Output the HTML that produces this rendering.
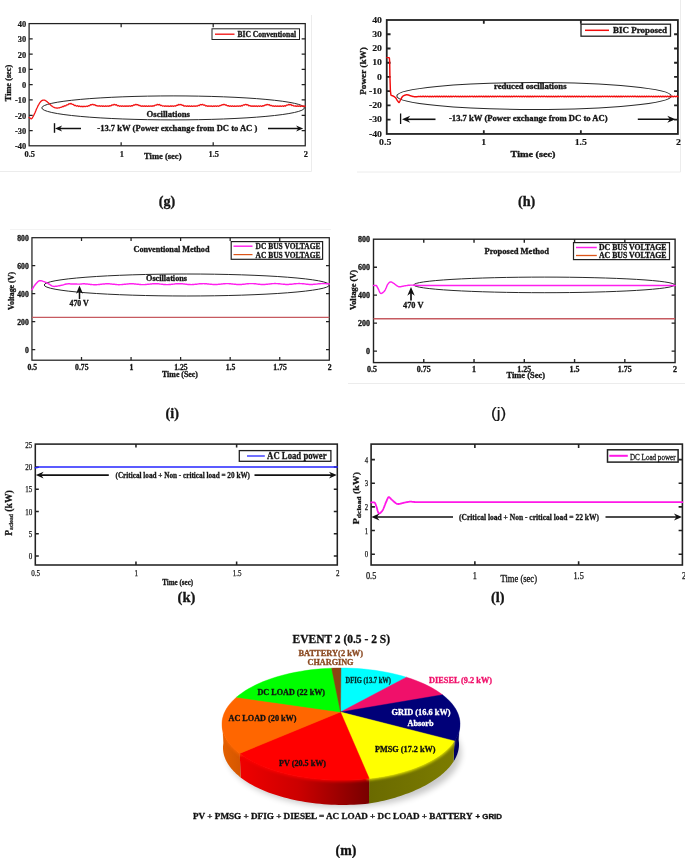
<!DOCTYPE html>
<html lang="en"><head><meta charset="utf-8"><title>Figure</title>
<style>html,body{margin:0;padding:0;background:#fff}svg{display:block}</style></head>
<body>
<svg width="685" height="858" viewBox="0 0 685 858">
<rect width="685" height="858" fill="#fff"/>
<path d="M0 171.5H311.5V15" stroke="#ececec" stroke-width="1" fill="none"/>
<path d="M357 172H680.5V0" stroke="#ececec" stroke-width="1" fill="none"/>
<path d="M10 229.5H331" stroke="#f3f3f3" stroke-width="1" fill="none"/>
<path d="M348 383.5H685" stroke="#ececec" stroke-width="1" fill="none"/>
<g id="fig-g">
<rect x="29.1" y="23.6" width="276.15" height="122.2" fill="#fff" stroke="#222" stroke-width="1.25"/>
<path d="M121.15 145.8v-3.6 M121.15 23.6v3.6 M213.2 145.8v-3.6 M213.2 23.6v3.6 M29.1 130.53h3.6 M305.25 130.53h-3.6 M29.1 115.25h3.6 M305.25 115.25h-3.6 M29.1 99.98h3.6 M305.25 99.98h-3.6 M29.1 84.7h3.6 M305.25 84.7h-3.6 M29.1 69.43h3.6 M305.25 69.43h-3.6 M29.1 54.15h3.6 M305.25 54.15h-3.6 M29.1 38.88h3.6 M305.25 38.88h-3.6" stroke="#222" stroke-width="1.25" fill="none"/>
<text x="15" y="149.17" font-family="Liberation Serif,serif" font-size="8.4" font-weight="bold" text-anchor="start" fill="#151515" textLength="11.2" lengthAdjust="spacingAndGlyphs" stroke="#151515" stroke-width="0.2">-40</text>
<text x="15" y="133.9" font-family="Liberation Serif,serif" font-size="8.4" font-weight="bold" text-anchor="start" fill="#151515" textLength="11.2" lengthAdjust="spacingAndGlyphs" stroke="#151515" stroke-width="0.2">-30</text>
<text x="15" y="118.62" font-family="Liberation Serif,serif" font-size="8.4" font-weight="bold" text-anchor="start" fill="#151515" textLength="11.2" lengthAdjust="spacingAndGlyphs" stroke="#151515" stroke-width="0.2">-20</text>
<text x="15" y="103.35" font-family="Liberation Serif,serif" font-size="8.4" font-weight="bold" text-anchor="start" fill="#151515" textLength="11.2" lengthAdjust="spacingAndGlyphs" stroke="#151515" stroke-width="0.2">-10</text>
<text x="22" y="88.07" font-family="Liberation Serif,serif" font-size="8.4" font-weight="bold" text-anchor="start" fill="#151515" textLength="4.2" lengthAdjust="spacingAndGlyphs" stroke="#151515" stroke-width="0.2">0</text>
<text x="17.8" y="72.8" font-family="Liberation Serif,serif" font-size="8.4" font-weight="bold" text-anchor="start" fill="#151515" textLength="8.4" lengthAdjust="spacingAndGlyphs" stroke="#151515" stroke-width="0.2">10</text>
<text x="17.8" y="57.52" font-family="Liberation Serif,serif" font-size="8.4" font-weight="bold" text-anchor="start" fill="#151515" textLength="8.4" lengthAdjust="spacingAndGlyphs" stroke="#151515" stroke-width="0.2">20</text>
<text x="17.8" y="42.25" font-family="Liberation Serif,serif" font-size="8.4" font-weight="bold" text-anchor="start" fill="#151515" textLength="8.4" lengthAdjust="spacingAndGlyphs" stroke="#151515" stroke-width="0.2">30</text>
<text x="17.8" y="26.97" font-family="Liberation Serif,serif" font-size="8.4" font-weight="bold" text-anchor="start" fill="#151515" textLength="8.4" lengthAdjust="spacingAndGlyphs" stroke="#151515" stroke-width="0.2">40</text>
<text x="24.45" y="157.17" font-family="Liberation Serif,serif" font-size="8.4" font-weight="bold" text-anchor="start" fill="#151515" textLength="10.5" lengthAdjust="spacingAndGlyphs" stroke="#151515" stroke-width="0.2">0.5</text>
<text x="119.65" y="157.17" font-family="Liberation Serif,serif" font-size="8.4" font-weight="bold" text-anchor="start" fill="#151515" textLength="4.2" lengthAdjust="spacingAndGlyphs" stroke="#151515" stroke-width="0.2">1</text>
<text x="208.55" y="157.17" font-family="Liberation Serif,serif" font-size="8.4" font-weight="bold" text-anchor="start" fill="#151515" textLength="10.5" lengthAdjust="spacingAndGlyphs" stroke="#151515" stroke-width="0.2">1.5</text>
<text x="303.75" y="157.17" font-family="Liberation Serif,serif" font-size="8.4" font-weight="bold" text-anchor="start" fill="#151515" textLength="4.2" lengthAdjust="spacingAndGlyphs" stroke="#151515" stroke-width="0.2">2</text>
<text x="144" y="159.31" font-family="Liberation Serif,serif" font-size="8.53" font-weight="bold" text-anchor="start" fill="#151515" textLength="37.5" lengthAdjust="spacingAndGlyphs" stroke="#151515" stroke-width="0.3">Time (sec)</text>
<g transform="rotate(-90 10.74 83)">
<text x="-7.51" y="83" font-family="Liberation Serif,serif" font-size="8.3" font-weight="bold" text-anchor="start" fill="#151515" textLength="36.5" lengthAdjust="spacingAndGlyphs" stroke="#151515" stroke-width="0.3">Time (sec)</text>
</g>
<ellipse cx="173.1" cy="107.9" rx="131.3" ry="12" fill="none" stroke="#2a2a2a" stroke-width="1"/>
<polyline points="29.1,117.4 29.6,117.8 30.2,118.1 30.7,118.5 31.2,118.9 31.8,118.5 32.3,117.8 32.8,117.0 33.4,116.1 33.9,115.0 34.4,113.9 35.0,112.7 35.5,111.5 36.0,110.3 36.5,109.0 37.1,107.8 37.6,106.7 38.1,105.6 38.7,104.6 39.2,103.7 39.7,102.8 40.3,102.1 40.8,101.5 41.3,101.0 41.9,100.6 42.4,100.3 42.9,100.1 43.5,100.1 44.0,100.1 44.5,100.2 45.1,100.4 45.6,100.7 46.1,101.0 46.7,101.4 47.2,101.8 47.7,102.3 48.3,102.8 48.8,103.3 49.3,103.8 49.9,104.3 50.4,104.8 50.9,105.2 51.4,105.7 52.0,106.1 52.5,106.5 53.0,106.8 53.6,107.1 54.1,107.3 54.6,107.6 55.2,107.8 55.7,107.9 56.2,107.9 56.8,108.1 57.3,108.1 57.8,108.0 58.4,107.8 58.9,107.9 59.4,107.9 60.0,107.5 60.5,107.3 61.0,107.3 61.6,107.2 62.1,106.8 62.6,106.5 63.2,106.5 63.7,106.5 64.2,106.0 64.7,105.7 65.3,105.8 65.8,105.8 66.3,105.2 66.9,104.8 67.4,104.8 67.9,104.8 68.5,104.2 69.0,103.7 69.5,103.8 70.1,104.0 70.6,103.6 71.1,103.4 71.7,103.9 72.2,104.4 72.7,104.4 73.3,104.3 73.8,104.9 74.3,105.5 74.9,105.4 75.4,105.3 75.9,105.7 76.5,106.2 77.0,106.0 77.5,105.7 78.1,106.0 78.6,106.5 79.1,106.3 79.6,106.0 80.2,106.3 80.7,106.7 81.2,106.6 81.8,106.2 82.3,106.4 82.8,106.8 83.4,106.6 83.9,106.2 84.4,106.3 85.0,106.7 85.5,106.6 86.0,106.1 86.6,106.2 87.1,106.5 87.6,106.3 88.2,105.8 88.7,105.6 89.2,105.8 89.8,105.5 90.3,104.9 90.8,104.7 91.4,104.9 91.9,104.8 92.4,104.3 92.9,104.3 93.5,104.8 94.0,105.0 94.5,104.7 95.1,104.9 95.6,105.5 96.1,105.8 96.7,105.5 97.2,105.6 97.7,106.1 98.3,106.2 98.8,105.8 99.3,105.7 99.9,106.1 100.4,106.3 100.9,105.9 101.5,105.8 102.0,106.2 102.5,106.4 103.1,106.0 103.6,105.9 104.1,106.3 104.7,106.4 105.2,106.0 105.7,105.9 106.3,106.2 106.8,106.4 107.3,106.0 107.8,105.8 108.4,106.2 108.9,106.4 109.4,105.9 110.0,105.6 110.5,105.8 111.0,105.9 111.6,105.3 112.1,104.8 112.6,105.0 113.2,105.1 113.7,104.6 114.2,104.3 114.8,104.6 115.3,105.0 115.8,104.9 116.4,104.7 116.9,105.2 117.4,105.8 118.0,105.7 118.5,105.5 119.0,105.9 119.6,106.3 120.1,106.1 120.6,105.8 121.1,106.0 121.7,106.4 122.2,106.1 122.7,105.8 123.3,106.0 123.8,106.4 124.3,106.2 124.9,105.9 125.4,106.1 125.9,106.4 126.5,106.2 127.0,105.8 127.5,106.0 128.1,106.4 128.6,106.2 129.1,105.8 129.7,105.9 130.2,106.3 130.7,106.2 131.3,105.7 131.8,105.7 132.3,106.0 132.9,105.7 133.4,105.1 133.9,104.9 134.5,105.2 135.0,104.9 135.5,104.4 136.0,104.4 136.6,104.8 137.1,104.9 137.6,104.6 138.2,104.8 138.7,105.4 139.2,105.7 139.8,105.4 140.3,105.6 140.8,106.1 141.4,106.3 141.9,105.9 142.4,105.8 143.0,106.3 143.5,106.3 144.0,105.9 144.6,105.8 145.1,106.3 145.6,106.4 146.2,106.0 146.7,105.9 147.2,106.3 147.8,106.4 148.3,106.0 148.8,105.9 149.4,106.2 149.9,106.4 150.4,106.0 150.9,105.8 151.5,106.2 152.0,106.4 152.5,106.0 153.1,105.7 153.6,106.0 154.1,106.0 154.7,105.5 155.2,105.1 155.7,105.2 156.3,105.2 156.8,104.7 157.3,104.3 157.9,104.6 158.4,104.9 158.9,104.6 159.5,104.5 160.0,105.0 160.5,105.5 161.1,105.4 161.6,105.3 162.1,105.8 162.7,106.2 163.2,106.0 163.7,105.8 164.2,106.0 164.8,106.4 165.3,106.1 165.8,105.8 166.4,106.0 166.9,106.4 167.4,106.2 168.0,105.9 168.5,106.1 169.0,106.5 169.6,106.3 170.1,105.9 170.6,106.0 171.2,106.4 171.7,106.2 172.2,105.8 172.8,106.0 173.3,106.4 173.8,106.2 174.4,105.8 174.9,105.8 175.4,106.2 176.0,105.9 176.5,105.3 177.0,105.2 177.6,105.4 178.1,105.1 178.6,104.5 179.1,104.5 179.7,104.8 180.2,104.8 180.7,104.4 181.3,104.6 181.8,105.2 182.3,105.4 182.9,105.1 183.4,105.3 183.9,106.0 184.5,106.1 185.0,105.8 185.5,105.8 186.1,106.3 186.6,106.3 187.1,105.9 187.7,105.8 188.2,106.3 188.7,106.4 189.3,106.0 189.8,105.9 190.3,106.3 190.9,106.4 191.4,106.0 191.9,105.9 192.4,106.3 193.0,106.4 193.5,106.0 194.0,105.8 194.6,106.2 195.1,106.4 195.6,106.0 196.2,105.8 196.7,106.1 197.2,106.2 197.8,105.7 198.3,105.3 198.8,105.5 199.4,105.5 199.9,104.9 200.4,104.5 201.0,104.7 201.5,104.9 202.0,104.5 202.6,104.3 203.1,104.8 203.6,105.2 204.2,105.1 204.7,105.0 205.2,105.5 205.8,106.0 206.3,105.9 206.8,105.7 207.3,106.0 207.9,106.4 208.4,106.1 208.9,105.8 209.5,106.0 210.0,106.4 210.5,106.2 211.1,105.8 211.6,106.1 212.1,106.5 212.7,106.3 213.2,105.9 213.7,106.1 214.3,106.4 214.8,106.2 215.3,105.8 215.9,106.0 216.4,106.4 216.9,106.2 217.5,105.8 218.0,105.9 218.5,106.3 219.1,106.1 219.6,105.6 220.1,105.5 220.6,105.7 221.2,105.4 221.7,104.8 222.2,104.7 222.8,104.9 223.3,104.8 223.8,104.3 224.4,104.4 224.9,104.9 225.4,105.1 226.0,104.8 226.5,105.1 227.0,105.7 227.6,105.9 228.1,105.6 228.6,105.7 229.2,106.2 229.7,106.3 230.2,105.9 230.8,105.9 231.3,106.3 231.8,106.3 232.4,105.9 232.9,105.9 233.4,106.3 234.0,106.4 234.5,106.0 235.0,105.9 235.5,106.3 236.1,106.4 236.6,106.0 237.1,105.8 237.7,106.2 238.2,106.4 238.7,106.0 239.3,105.8 239.8,106.2 240.3,106.3 240.9,105.9 241.4,105.5 241.9,105.8 242.5,105.8 243.0,105.2 243.5,104.8 244.1,104.9 244.6,105.0 245.1,104.5 245.7,104.3 246.2,104.6 246.7,105.0 247.3,104.8 247.8,104.7 248.3,105.3 248.8,105.8 249.4,105.7 249.9,105.5 250.4,105.9 251.0,106.3 251.5,106.1 252.0,105.8 252.6,106.1 253.1,106.4 253.6,106.1 254.2,105.8 254.7,106.1 255.2,106.4 255.8,106.2 256.3,105.9 256.8,106.1 257.4,106.5 257.9,106.2 258.4,105.8 259.0,106.0 259.5,106.4 260.0,106.2 260.6,105.8 261.1,106.0 261.6,106.4 262.2,106.2 262.7,105.7 263.2,105.7 263.7,106.0 264.3,105.7 264.8,105.1 265.3,104.9 265.9,105.2 266.4,104.9 266.9,104.4 267.5,104.4 268.0,104.8 268.5,104.9 269.1,104.6 269.6,104.8 270.1,105.5 270.7,105.6 271.2,105.4 271.7,105.6 272.3,106.1 272.8,106.2 273.3,105.9 273.9,105.9 274.4,106.3 274.9,106.3 275.5,105.9 276.0,105.9 276.5,106.3 277.0,106.4 277.6,106.0 278.1,105.9 278.6,106.3 279.2,106.4 279.7,106.0 280.2,105.9 280.8,106.3 281.3,106.4 281.8,106.0 282.4,105.8 282.9,106.2 283.4,106.4 284.0,105.9 284.5,105.7 285.0,106.0 285.6,106.0 286.1,105.5 286.6,105.1 287.2,105.2 287.7,105.2 288.2,104.7 288.8,104.3 289.3,104.6 289.8,104.9 290.4,104.6 290.9,104.5 291.4,105.0 291.9,105.5 292.5,105.4 293.0,105.3 293.5,105.8 294.1,106.2 294.6,106.0 295.1,105.7 295.7,106.1 296.2,106.4 296.7,106.1 297.3,105.8 297.8,106.1 298.3,106.4 298.9,106.2 299.4,105.9 299.9,106.1 300.5,106.5 301.0,106.2 301.5,105.9 302.1,106.1 302.6,106.4 303.1,106.2 303.7,105.8 304.2,106.0 304.7,106.4 305.2,106.2" fill="none" stroke="#f21414" stroke-width="1.3" stroke-linejoin="round" stroke-linecap="round"/>
<rect x="212" y="28.8" width="87.5" height="10.7" fill="#fff" stroke="#222" stroke-width="1"/>
<path d="M215 34.2H234.5" stroke="#f21414" stroke-width="1.35" fill="none"/>
<text x="237.5" y="36.69" font-family="Liberation Serif,serif" font-size="7.55" font-weight="bold" text-anchor="start" fill="#151515" textLength="58.5" lengthAdjust="spacingAndGlyphs" stroke="#151515" stroke-width="0.3">BIC Conventional</text>
<text x="146.5" y="117.07" font-family="Liberation Serif,serif" font-size="8.7" font-weight="bold" text-anchor="start" fill="#151515" textLength="43.5" lengthAdjust="spacingAndGlyphs" stroke="#151515" stroke-width="0.3">Oscillations</text>
<path d="M54.5 123.2V132.8" stroke="#111" stroke-width="1.4" fill="none"/>
<path d="M81 128.5H58.3" stroke="#111" stroke-width="1.5" fill="none"/>
<path d="M55 128.5L62.15 125.47L59.95 128.5L62.15 131.53Z" fill="#111"/>
<text x="97.3" y="131.22" font-family="Liberation Serif,serif" font-size="8.56" font-weight="bold" text-anchor="start" fill="#151515" textLength="160" lengthAdjust="spacingAndGlyphs" stroke="#151515" stroke-width="0.3">-13.7 kW (Power exchange from DC to AC )</text>
<path d="M268 128.5H299.9" stroke="#111" stroke-width="1.5" fill="none"/>
<path d="M303.2 128.5L296.05 125.47L298.25 128.5L296.05 131.53Z" fill="#111"/>
<text x="158.72" y="205.89" font-family="Liberation Serif,serif" font-size="14.2" font-weight="bold" text-anchor="start" fill="#151515" textLength="16.56" lengthAdjust="spacingAndGlyphs" stroke="#151515" stroke-width="0.3">(g)</text>
</g>
<g id="fig-h">
<rect x="386.75" y="20" width="291.15" height="113.95" fill="#fff" stroke="#222" stroke-width="1.8"/>
<path d="M483.8 133.95v-3.8 M483.8 20v3.8 M580.85 133.95v-3.8 M580.85 20v3.8 M386.75 119.71h3.8 M677.9 119.71h-3.8 M386.75 105.46h3.8 M677.9 105.46h-3.8 M386.75 91.22h3.8 M677.9 91.22h-3.8 M386.75 76.97h3.8 M677.9 76.97h-3.8 M386.75 62.73h3.8 M677.9 62.73h-3.8 M386.75 48.49h3.8 M677.9 48.49h-3.8 M386.75 34.24h3.8 M677.9 34.24h-3.8" stroke="#222" stroke-width="1.8" fill="none"/>
<text x="368.9" y="136.62" font-family="Liberation Serif,serif" font-size="7.8" font-weight="bold" text-anchor="start" fill="#151515" textLength="13.1" lengthAdjust="spacingAndGlyphs" stroke="#151515" stroke-width="0.12">-40</text>
<text x="368.9" y="122.38" font-family="Liberation Serif,serif" font-size="7.8" font-weight="bold" text-anchor="start" fill="#151515" textLength="13.1" lengthAdjust="spacingAndGlyphs" stroke="#151515" stroke-width="0.12">-30</text>
<text x="368.9" y="108.14" font-family="Liberation Serif,serif" font-size="7.8" font-weight="bold" text-anchor="start" fill="#151515" textLength="13.1" lengthAdjust="spacingAndGlyphs" stroke="#151515" stroke-width="0.12">-20</text>
<text x="368.9" y="93.89" font-family="Liberation Serif,serif" font-size="7.8" font-weight="bold" text-anchor="start" fill="#151515" textLength="13.1" lengthAdjust="spacingAndGlyphs" stroke="#151515" stroke-width="0.12">-10</text>
<text x="377.09" y="79.65" font-family="Liberation Serif,serif" font-size="7.8" font-weight="bold" text-anchor="start" fill="#151515" textLength="4.91" lengthAdjust="spacingAndGlyphs" stroke="#151515" stroke-width="0.12">0</text>
<text x="372.17" y="65.41" font-family="Liberation Serif,serif" font-size="7.8" font-weight="bold" text-anchor="start" fill="#151515" textLength="9.83" lengthAdjust="spacingAndGlyphs" stroke="#151515" stroke-width="0.12">10</text>
<text x="372.17" y="51.16" font-family="Liberation Serif,serif" font-size="7.8" font-weight="bold" text-anchor="start" fill="#151515" textLength="9.83" lengthAdjust="spacingAndGlyphs" stroke="#151515" stroke-width="0.12">20</text>
<text x="372.17" y="36.92" font-family="Liberation Serif,serif" font-size="7.8" font-weight="bold" text-anchor="start" fill="#151515" textLength="9.83" lengthAdjust="spacingAndGlyphs" stroke="#151515" stroke-width="0.12">30</text>
<text x="372.17" y="22.67" font-family="Liberation Serif,serif" font-size="7.8" font-weight="bold" text-anchor="start" fill="#151515" textLength="9.83" lengthAdjust="spacingAndGlyphs" stroke="#151515" stroke-width="0.12">40</text>
<text x="379.11" y="145.17" font-family="Liberation Serif,serif" font-size="7.8" font-weight="bold" text-anchor="start" fill="#151515" textLength="12.29" lengthAdjust="spacingAndGlyphs" stroke="#151515" stroke-width="0.12">0.5</text>
<text x="481.34" y="145.17" font-family="Liberation Serif,serif" font-size="7.8" font-weight="bold" text-anchor="start" fill="#151515" textLength="4.91" lengthAdjust="spacingAndGlyphs" stroke="#151515" stroke-width="0.12">1</text>
<text x="574.71" y="145.17" font-family="Liberation Serif,serif" font-size="7.8" font-weight="bold" text-anchor="start" fill="#151515" textLength="12.29" lengthAdjust="spacingAndGlyphs" stroke="#151515" stroke-width="0.12">1.5</text>
<text x="676.04" y="145.17" font-family="Liberation Serif,serif" font-size="7.8" font-weight="bold" text-anchor="start" fill="#151515" textLength="4.91" lengthAdjust="spacingAndGlyphs" stroke="#151515" stroke-width="0.12">2</text>
<text x="510.5" y="157.33" font-family="Liberation Serif,serif" font-size="8.28" font-weight="bold" text-anchor="start" fill="#151515" textLength="45" lengthAdjust="spacingAndGlyphs" stroke="#151515" stroke-width="0.3">Time (sec)</text>
<g transform="rotate(-90 365.94 71)">
<text x="342.19" y="71" font-family="Liberation Serif,serif" font-size="8" font-weight="bold" text-anchor="start" fill="#151515" textLength="47.5" lengthAdjust="spacingAndGlyphs" stroke="#151515" stroke-width="0.3">Power (kW)</text>
</g>
<ellipse cx="534" cy="96" rx="137.2" ry="13.5" fill="none" stroke="#2a2a2a" stroke-width="1.05"/>
<polyline points="386.8,57.6 387.0,57.6 387.2,57.6 387.5,57.6 387.7,57.6 388.0,57.6 388.2,57.6 388.5,57.6 388.7,57.6 388.9,57.6 389.2,57.6 389.4,58.3 389.7,62.5 389.9,75.8 390.2,84.7 390.4,90.9 390.7,93.4 390.9,94.9 391.1,95.3 391.4,95.4 391.6,95.5 391.9,95.6 392.1,95.6 392.4,95.7 392.6,95.8 392.9,95.9 393.1,96.0 393.3,96.1 393.6,96.3 393.8,96.4 394.1,96.6 394.3,96.7 394.6,96.9 394.8,97.1 395.1,97.3 395.3,97.5 395.5,97.7 395.8,98.0 396.0,98.3 396.3,98.7 396.5,99.1 396.8,99.5 397.0,100.0 397.2,100.4 397.5,100.7 397.7,101.1 398.0,101.4 398.2,101.8 398.5,102.1 398.7,102.4 399.0,102.5 399.2,102.4 399.4,102.0 399.7,101.6 399.9,101.0 400.2,100.5 400.4,100.0 400.7,99.5 400.9,99.1 401.2,98.7 401.4,98.3 401.6,97.9 401.9,97.5 402.1,97.1 402.4,96.8 402.6,96.5 402.9,96.2 403.1,96.0 403.4,95.9 403.6,95.7 403.8,95.6 404.1,95.5 404.3,95.4 404.6,95.3 404.8,95.2 405.1,95.1 405.3,95.1 405.5,95.0 405.8,94.9 406.0,94.9 406.3,94.8 406.5,94.8 406.8,94.8 407.0,94.8 407.3,94.8 407.5,94.8 407.7,94.9 408.0,94.9 408.2,95.0 408.5,95.0 408.7,95.1 409.0,95.2 409.2,95.3 409.5,95.4 409.7,95.5 409.9,95.6 410.2,95.7 410.4,95.8 410.7,95.8 410.9,95.9 411.2,96.0 411.4,96.0 411.7,96.1 411.9,96.2 412.1,96.2 412.4,96.3 412.6,96.4 412.9,96.4 413.1,96.5 413.4,96.5 413.6,96.6 413.9,96.6 414.1,96.7 414.3,96.7 414.6,96.8 414.8,96.8 415.1,96.8 415.3,96.8 415.6,96.8 415.8,96.8 416.0,96.7 416.3,96.7 416.5,96.7 416.8,96.7 417.0,96.7 417.3,96.7 417.5,96.6 417.8,96.6 418.0,96.5 418.2,96.5 418.5,96.4 418.7,96.5 419.0,96.5 419.2,96.6 419.5,96.6 419.7,96.6 420.0,96.5 420.2,96.5 420.4,96.4 420.7,96.3 420.9,96.4 421.2,96.4 421.4,96.5 421.7,96.6 421.9,96.7 422.2,96.6 422.4,96.5 422.6,96.4 422.9,96.3 423.1,96.3 423.4,96.3 423.6,96.5 423.9,96.6 424.1,96.7 424.3,96.7 424.6,96.6 424.8,96.5 425.1,96.3 425.3,96.2 425.6,96.2 426.1,96.6 426.7,96.7 427.3,96.4 427.9,96.2 428.4,96.6 429.0,96.8 429.6,96.4 430.2,96.2 430.7,96.6 431.3,96.8 431.9,96.4 432.5,96.2 433.0,96.6 433.6,96.8 434.2,96.4 434.8,96.2 435.3,96.5 435.9,96.8 436.5,96.4 437.1,96.2 437.6,96.5 438.2,96.8 438.8,96.5 439.4,96.2 439.9,96.5 440.5,96.8 441.1,96.5 441.7,96.2 442.2,96.5 442.8,96.8 443.4,96.5 444.0,96.2 444.5,96.4 445.1,96.8 445.7,96.5 446.3,96.2 446.8,96.4 447.4,96.8 448.0,96.6 448.6,96.2 449.1,96.4 449.7,96.8 450.3,96.6 450.9,96.2 451.4,96.4 452.0,96.8 452.6,96.6 453.2,96.2 453.7,96.4 454.3,96.7 454.9,96.6 455.5,96.2 456.0,96.3 456.6,96.7 457.2,96.6 457.8,96.3 458.3,96.3 458.9,96.7 459.5,96.7 460.1,96.3 460.6,96.3 461.2,96.7 461.8,96.7 462.4,96.3 462.9,96.3 463.5,96.7 464.1,96.7 464.7,96.3 465.2,96.3 465.8,96.7 466.4,96.7 467.0,96.3 467.5,96.3 468.1,96.6 468.7,96.7 469.3,96.3 469.8,96.2 470.4,96.6 471.0,96.7 471.6,96.4 472.1,96.2 472.7,96.6 473.3,96.8 473.9,96.4 474.4,96.2 475.0,96.6 475.6,96.8 476.2,96.4 476.7,96.2 477.3,96.6 477.9,96.8 478.5,96.4 479.0,96.2 479.6,96.5 480.2,96.8 480.7,96.4 481.3,96.2 481.9,96.5 482.5,96.8 483.0,96.5 483.6,96.2 484.2,96.5 484.8,96.8 485.3,96.5 485.9,96.2 486.5,96.5 487.1,96.8 487.6,96.5 488.2,96.2 488.8,96.5 489.4,96.8 489.9,96.5 490.5,96.2 491.1,96.4 491.7,96.8 492.2,96.6 492.8,96.2 493.4,96.4 494.0,96.8 494.5,96.6 495.1,96.2 495.7,96.4 496.3,96.8 496.8,96.6 497.4,96.2 498.0,96.4 498.6,96.7 499.1,96.6 499.7,96.2 500.3,96.3 500.9,96.7 501.4,96.6 502.0,96.3 502.6,96.3 503.2,96.7 503.7,96.7 504.3,96.3 504.9,96.3 505.5,96.7 506.0,96.7 506.6,96.3 507.2,96.3 507.8,96.7 508.3,96.7 508.9,96.3 509.5,96.3 510.1,96.7 510.6,96.7 511.2,96.3 511.8,96.3 512.4,96.7 512.9,96.7 513.5,96.3 514.1,96.2 514.7,96.6 515.2,96.7 515.8,96.4 516.4,96.2 517.0,96.6 517.5,96.7 518.1,96.4 518.7,96.2 519.3,96.6 519.8,96.8 520.4,96.4 521.0,96.2 521.6,96.6 522.1,96.8 522.7,96.4 523.3,96.2 523.9,96.5 524.4,96.8 525.0,96.4 525.6,96.2 526.2,96.5 526.7,96.8 527.3,96.5 527.9,96.2 528.5,96.5 529.0,96.8 529.6,96.5 530.2,96.2 530.8,96.5 531.3,96.8 531.9,96.5 532.5,96.2 533.1,96.5 533.6,96.8 534.2,96.5 534.8,96.2 535.4,96.4 535.9,96.8 536.5,96.6 537.1,96.2 537.7,96.4 538.2,96.8 538.8,96.6 539.4,96.2 540.0,96.4 540.5,96.8 541.1,96.6 541.7,96.2 542.3,96.4 542.8,96.7 543.4,96.6 544.0,96.2 544.6,96.3 545.1,96.7 545.7,96.6 546.3,96.3 546.8,96.3 547.4,96.7 548.0,96.7 548.6,96.3 549.1,96.3 549.7,96.7 550.3,96.7 550.9,96.3 551.4,96.3 552.0,96.7 552.6,96.7 553.2,96.3 553.7,96.3 554.3,96.7 554.9,96.7 555.5,96.3 556.0,96.3 556.6,96.7 557.2,96.7 557.8,96.3 558.3,96.2 558.9,96.6 559.5,96.7 560.1,96.4 560.6,96.2 561.2,96.6 561.8,96.7 562.4,96.4 562.9,96.2 563.5,96.6 564.1,96.8 564.7,96.4 565.2,96.2 565.8,96.6 566.4,96.8 567.0,96.4 567.5,96.2 568.1,96.5 568.7,96.8 569.3,96.4 569.8,96.2 570.4,96.5 571.0,96.8 571.6,96.5 572.1,96.2 572.7,96.5 573.3,96.8 573.9,96.5 574.4,96.2 575.0,96.5 575.6,96.8 576.2,96.5 576.7,96.2 577.3,96.5 577.9,96.8 578.5,96.5 579.0,96.2 579.6,96.4 580.2,96.8 580.8,96.6 581.3,96.2 581.9,96.4 582.5,96.8 583.1,96.6 583.6,96.2 584.2,96.4 584.8,96.8 585.4,96.6 585.9,96.2 586.5,96.4 587.1,96.7 587.7,96.6 588.2,96.2 588.8,96.3 589.4,96.7 590.0,96.6 590.5,96.3 591.1,96.3 591.7,96.7 592.3,96.7 592.8,96.3 593.4,96.3 594.0,96.7 594.6,96.7 595.1,96.3 595.7,96.3 596.3,96.7 596.9,96.7 597.4,96.3 598.0,96.3 598.6,96.7 599.2,96.7 599.7,96.3 600.3,96.3 600.9,96.7 601.5,96.7 602.0,96.3 602.6,96.2 603.2,96.6 603.8,96.7 604.3,96.4 604.9,96.2 605.5,96.6 606.1,96.7 606.6,96.4 607.2,96.2 607.8,96.6 608.4,96.8 608.9,96.4 609.5,96.2 610.1,96.6 610.7,96.8 611.2,96.4 611.8,96.2 612.4,96.6 612.9,96.8 613.5,96.4 614.1,96.2 614.7,96.5 615.2,96.8 615.8,96.5 616.4,96.2 617.0,96.5 617.5,96.8 618.1,96.5 618.7,96.2 619.3,96.5 619.8,96.8 620.4,96.5 621.0,96.2 621.6,96.5 622.1,96.8 622.7,96.5 623.3,96.2 623.9,96.4 624.4,96.8 625.0,96.6 625.6,96.2 626.2,96.4 626.7,96.8 627.3,96.6 627.9,96.2 628.5,96.4 629.0,96.8 629.6,96.6 630.2,96.2 630.8,96.4 631.3,96.7 631.9,96.6 632.5,96.2 633.1,96.3 633.6,96.7 634.2,96.6 634.8,96.2 635.4,96.3 635.9,96.7 636.5,96.7 637.1,96.3 637.7,96.3 638.2,96.7 638.8,96.7 639.4,96.3 640.0,96.3 640.5,96.7 641.1,96.7 641.7,96.3 642.3,96.3 642.8,96.7 643.4,96.7 644.0,96.3 644.6,96.3 645.1,96.7 645.7,96.7 646.3,96.3 646.9,96.2 647.4,96.6 648.0,96.7 648.6,96.3 649.2,96.2 649.7,96.6 650.3,96.7 650.9,96.4 651.5,96.2 652.0,96.6 652.6,96.8 653.2,96.4 653.8,96.2 654.3,96.6 654.9,96.8 655.5,96.4 656.1,96.2 656.6,96.6 657.2,96.8 657.8,96.4 658.4,96.2 658.9,96.5 659.5,96.8 660.1,96.5 660.7,96.2 661.2,96.5 661.8,96.8 662.4,96.5 663.0,96.2 663.5,96.5 664.1,96.8 664.7,96.5 665.3,96.2 665.8,96.5 666.4,96.8 667.0,96.5 667.6,96.2 668.1,96.4 668.7,96.8 669.3,96.6 669.9,96.2 670.4,96.4 671.0,96.8 671.6,96.6 672.2,96.2 672.7,96.4 673.3,96.8 673.9,96.6 674.5,96.2 675.0,96.4 675.6,96.7 676.2,96.6 676.8,96.2 677.3,96.4 677.9,96.7" fill="none" stroke="#f20c0c" stroke-width="1.45" stroke-linejoin="round" stroke-linecap="round"/>
<rect x="581" y="24.2" width="89.5" height="12" fill="#fff" stroke="#222" stroke-width="1.3"/>
<path d="M585 30.3H609" stroke="#f20c0c" stroke-width="1.5" fill="none"/>
<text x="613" y="32.87" font-family="Liberation Serif,serif" font-size="7.49" font-weight="bold" text-anchor="start" fill="#151515" textLength="54" lengthAdjust="spacingAndGlyphs" stroke="#151515" stroke-width="0.3">BIC Proposed</text>
<text x="494" y="89.17" font-family="Liberation Serif,serif" font-size="7.19" font-weight="bold" text-anchor="start" fill="#151515" textLength="72.5" lengthAdjust="spacingAndGlyphs" stroke="#151515" stroke-width="0.3">reduced oscillations</text>
<path d="M400.6 113.5V124" stroke="#111" stroke-width="1.3" fill="none"/>
<path d="M435.5 119.3H405.78" stroke="#111" stroke-width="1.6" fill="none"/>
<path d="M402 119.3L410.19 115.83L407.67 119.3L410.19 122.77Z" fill="#111"/>
<text x="449" y="121.26" font-family="Liberation Serif,serif" font-size="7.16" font-weight="bold" text-anchor="start" fill="#151515" textLength="158.5" lengthAdjust="spacingAndGlyphs" stroke="#151515" stroke-width="0.3">-13.7 kW (Power exchange from DC to AC)</text>
<path d="M637.8 119.3H671.72" stroke="#111" stroke-width="1.6" fill="none"/>
<path d="M675.5 119.3L667.31 115.83L669.83 119.3L667.31 122.77Z" fill="#111"/>
<text x="517.92" y="205.89" font-family="Liberation Serif,serif" font-size="14.2" font-weight="bold" text-anchor="start" fill="#151515" textLength="17.36" lengthAdjust="spacingAndGlyphs" stroke="#151515" stroke-width="0.3">(h)</text>
</g>
<g id="fig-i">
<rect x="31.95" y="237.7" width="297.35" height="122.5" fill="#fff" stroke="#222" stroke-width="1.25"/>
<path d="M81.51 360.2v-3.3 M81.51 237.7v3.3 M131.07 360.2v-3.3 M131.07 237.7v3.3 M180.62 360.2v-3.3 M180.62 237.7v3.3 M230.18 360.2v-3.3 M230.18 237.7v3.3 M279.74 360.2v-3.3 M279.74 237.7v3.3 M31.95 349.6h3.3 M329.3 349.6h-3.3 M31.95 321.62h3.3 M329.3 321.62h-3.3 M31.95 293.64h3.3 M329.3 293.64h-3.3 M31.95 265.66h3.3 M329.3 265.66h-3.3" stroke="#222" stroke-width="1.25" fill="none"/>
<text x="24.95" y="352.74" font-family="Liberation Serif,serif" font-size="7.7" font-weight="bold" text-anchor="start" fill="#151515" textLength="3.85" lengthAdjust="spacingAndGlyphs" stroke="#151515" stroke-width="0.3">0</text>
<text x="17.25" y="324.76" font-family="Liberation Serif,serif" font-size="7.7" font-weight="bold" text-anchor="start" fill="#151515" textLength="11.55" lengthAdjust="spacingAndGlyphs" stroke="#151515" stroke-width="0.3">200</text>
<text x="17.25" y="296.78" font-family="Liberation Serif,serif" font-size="7.7" font-weight="bold" text-anchor="start" fill="#151515" textLength="11.55" lengthAdjust="spacingAndGlyphs" stroke="#151515" stroke-width="0.3">400</text>
<text x="17.25" y="268.8" font-family="Liberation Serif,serif" font-size="7.7" font-weight="bold" text-anchor="start" fill="#151515" textLength="11.55" lengthAdjust="spacingAndGlyphs" stroke="#151515" stroke-width="0.3">600</text>
<text x="17.25" y="240.82" font-family="Liberation Serif,serif" font-size="7.7" font-weight="bold" text-anchor="start" fill="#151515" textLength="11.55" lengthAdjust="spacingAndGlyphs" stroke="#151515" stroke-width="0.3">800</text>
<text x="27.44" y="370.14" font-family="Liberation Serif,serif" font-size="7.7" font-weight="bold" text-anchor="start" fill="#151515" textLength="9.62" lengthAdjust="spacingAndGlyphs" stroke="#151515" stroke-width="0.3">0.5</text>
<text x="75.07" y="370.14" font-family="Liberation Serif,serif" font-size="7.7" font-weight="bold" text-anchor="start" fill="#151515" textLength="13.47" lengthAdjust="spacingAndGlyphs" stroke="#151515" stroke-width="0.3">0.75</text>
<text x="129.44" y="370.14" font-family="Liberation Serif,serif" font-size="7.7" font-weight="bold" text-anchor="start" fill="#151515" textLength="3.85" lengthAdjust="spacingAndGlyphs" stroke="#151515" stroke-width="0.3">1</text>
<text x="174.19" y="370.14" font-family="Liberation Serif,serif" font-size="7.7" font-weight="bold" text-anchor="start" fill="#151515" textLength="13.47" lengthAdjust="spacingAndGlyphs" stroke="#151515" stroke-width="0.3">1.25</text>
<text x="225.67" y="370.14" font-family="Liberation Serif,serif" font-size="7.7" font-weight="bold" text-anchor="start" fill="#151515" textLength="9.62" lengthAdjust="spacingAndGlyphs" stroke="#151515" stroke-width="0.3">1.5</text>
<text x="273.3" y="370.14" font-family="Liberation Serif,serif" font-size="7.7" font-weight="bold" text-anchor="start" fill="#151515" textLength="13.47" lengthAdjust="spacingAndGlyphs" stroke="#151515" stroke-width="0.3">1.75</text>
<text x="327.68" y="370.14" font-family="Liberation Serif,serif" font-size="7.7" font-weight="bold" text-anchor="start" fill="#151515" textLength="3.85" lengthAdjust="spacingAndGlyphs" stroke="#151515" stroke-width="0.3">2</text>
<text x="162" y="377.08" font-family="Liberation Serif,serif" font-size="7.51" font-weight="bold" text-anchor="start" fill="#151515" textLength="36" lengthAdjust="spacingAndGlyphs" stroke="#151515" stroke-width="0.3">Time (Sec)</text>
<g transform="rotate(-90 14.38 291)">
<text x="-4.62" y="291" font-family="Liberation Serif,serif" font-size="7.2" font-weight="bold" text-anchor="start" fill="#151515" textLength="38" lengthAdjust="spacingAndGlyphs" stroke="#151515" stroke-width="0.3">Voltage (V)</text>
</g>
<text x="133.5" y="251.77" font-family="Liberation Serif,serif" font-size="7.78" font-weight="bold" text-anchor="start" fill="#151515" textLength="76" lengthAdjust="spacingAndGlyphs" stroke="#151515" stroke-width="0.3">Conventional Method</text>
<ellipse cx="186.8" cy="285" rx="142.6" ry="11" fill="none" stroke="#2a2a2a" stroke-width="1"/>
<path d="M31.95 317.3H329.3" stroke="#c65a60" stroke-width="1.15" fill="none"/>
<polyline points="31.9,289.7 32.7,288.5 33.4,287.3 34.1,286.2 34.8,285.2 35.5,284.3 36.2,283.5 36.9,282.7 37.6,282.0 38.3,281.3 39.0,280.9 39.8,280.6 40.5,280.7 41.2,280.8 41.9,280.9 42.6,281.1 43.3,281.4 44.0,281.6 44.7,281.9 45.4,282.2 46.1,282.4 46.9,282.8 47.6,283.1 48.3,283.6 49.0,284.0 49.7,284.5 50.4,285.0 51.1,285.4 51.8,285.8 52.5,286.1 53.2,286.3 53.9,286.4 54.7,286.4 55.4,286.3 56.1,286.3 56.8,286.2 57.5,286.1 58.2,285.9 58.9,285.8 59.6,285.7 60.3,285.5 61.0,285.4 61.8,285.2 62.5,285.1 63.2,284.9 63.9,284.7 64.6,284.4 65.3,284.2 66.0,284.0 66.7,283.9 67.4,283.9 68.1,283.8 68.9,283.8 69.6,283.8 70.3,283.9 71.0,283.9 71.7,283.9 72.4,283.9 73.1,283.9 73.8,283.9 74.5,283.9 75.2,284.0 75.9,284.0 76.7,284.0 77.4,284.1 78.1,284.1 78.8,284.1 79.5,284.1 80.2,284.1 80.9,284.0 81.6,284.0 82.3,283.9 83.0,283.8 83.8,283.8 84.5,283.8 85.2,283.9 85.9,283.9 86.6,284.0 87.3,284.0 88.0,284.1 88.7,284.2 89.4,284.3 90.1,284.4 90.9,284.4 91.6,284.5 92.3,284.6 93.0,284.6 93.7,284.7 94.4,284.7 95.1,284.7 95.8,284.7 96.5,284.7 97.2,284.6 97.9,284.6 98.7,284.5 99.4,284.4 100.1,284.4 100.8,284.3 101.5,284.2 102.2,284.1 102.9,284.0 103.6,284.0 104.3,283.9 105.0,283.9 105.8,283.8 106.5,283.8 107.2,283.8 107.9,283.8 108.6,283.8 109.3,283.8 110.0,283.9 110.7,284.0 111.4,284.0 112.1,284.1 112.9,284.2 113.6,284.3 114.3,284.3 115.0,284.4 115.7,284.5 116.4,284.5 117.1,284.6 117.8,284.6 118.5,284.7 119.2,284.7 119.9,284.6 120.7,284.6 121.4,284.6 122.1,284.5 122.8,284.5 123.5,284.4 124.2,284.3 124.9,284.2 125.6,284.2 126.3,284.1 127.0,284.0 127.8,283.9 128.5,283.9 129.2,283.8 129.9,283.8 130.6,283.8 131.3,283.7 132.0,283.8 132.7,283.8 133.4,283.8 134.1,283.9 134.9,283.9 135.6,284.0 136.3,284.1 137.0,284.2 137.7,284.2 138.4,284.3 139.1,284.4 139.8,284.5 140.5,284.5 141.2,284.6 141.9,284.6 142.7,284.6 143.4,284.6 144.1,284.6 144.8,284.6 145.5,284.5 146.2,284.5 146.9,284.4 147.6,284.3 148.3,284.3 149.0,284.2 149.8,284.1 150.5,284.0 151.2,283.9 151.9,283.9 152.6,283.8 153.3,283.8 154.0,283.7 154.7,283.7 155.4,283.7 156.1,283.7 156.9,283.8 157.6,283.8 158.3,283.8 159.0,283.9 159.7,284.0 160.4,284.1 161.1,284.1 161.8,284.2 162.5,284.3 163.2,284.4 163.9,284.4 164.7,284.5 165.4,284.5 166.1,284.6 166.8,284.6 167.5,284.6 168.2,284.6 168.9,284.5 169.6,284.5 170.3,284.4 171.0,284.4 171.8,284.3 172.5,284.2 173.2,284.1 173.9,284.1 174.6,284.0 175.3,283.9 176.0,283.8 176.7,283.8 177.4,283.7 178.1,283.7 178.9,283.7 179.6,283.7 180.3,283.7 181.0,283.7 181.7,283.8 182.4,283.8 183.1,283.9 183.8,284.0 184.5,284.0 185.2,284.1 185.9,284.2 186.7,284.3 187.4,284.4 188.1,284.4 188.8,284.5 189.5,284.5 190.2,284.5 190.9,284.6 191.6,284.6 192.3,284.5 193.0,284.5 193.8,284.5 194.5,284.4 195.2,284.3 195.9,284.3 196.6,284.2 197.3,284.1 198.0,284.0 198.7,283.9 199.4,283.8 200.1,283.8 200.9,283.7 201.6,283.7 202.3,283.7 203.0,283.6 203.7,283.6 204.4,283.7 205.1,283.7 205.8,283.7 206.5,283.8 207.2,283.9 207.9,283.9 208.7,284.0 209.4,284.1 210.1,284.2 210.8,284.3 211.5,284.3 212.2,284.4 212.9,284.5 213.6,284.5 214.3,284.5 215.0,284.5 215.8,284.5 216.5,284.5 217.2,284.5 217.9,284.4 218.6,284.3 219.3,284.3 220.0,284.2 220.7,284.1 221.4,284.0 222.1,284.0 222.9,283.9 223.6,283.8 224.3,283.7 225.0,283.7 225.7,283.6 226.4,283.6 227.1,283.6 227.8,283.6 228.5,283.6 229.2,283.7 229.9,283.7 230.7,283.8 231.4,283.9 232.1,283.9 232.8,284.0 233.5,284.1 234.2,284.2 234.9,284.2 235.6,284.3 236.3,284.4 237.0,284.4 237.8,284.5 238.5,284.5 239.2,284.5 239.9,284.5 240.6,284.5 241.3,284.4 242.0,284.4 242.7,284.3 243.4,284.2 244.1,284.2 244.8,284.1 245.6,284.0 246.3,283.9 247.0,283.8 247.7,283.8 248.4,283.7 249.1,283.6 249.8,283.6 250.5,283.6 251.2,283.6 251.9,283.6 252.7,283.6 253.4,283.6 254.1,283.7 254.8,283.8 255.5,283.8 256.2,283.9 256.9,284.0 257.6,284.1 258.3,284.2 259.0,284.2 259.8,284.3 260.5,284.4 261.2,284.4 261.9,284.4 262.6,284.5 263.3,284.5 264.0,284.4 264.7,284.4 265.4,284.4 266.1,284.3 266.8,284.3 267.6,284.2 268.3,284.1 269.0,284.0 269.7,283.9 270.4,283.9 271.1,283.8 271.8,283.7 272.5,283.6 273.2,283.6 273.9,283.6 274.7,283.5 275.4,283.5 276.1,283.6 276.8,283.6 277.5,283.6 278.2,283.7 278.9,283.7 279.6,283.8 280.3,283.9 281.0,284.0 281.8,284.1 282.5,284.1 283.2,284.2 283.9,284.3 284.6,284.3 285.3,284.4 286.0,284.4 286.7,284.4 287.4,284.4 288.1,284.4 288.8,284.4 289.6,284.3 290.3,284.3 291.0,284.2 291.7,284.2 292.4,284.1 293.1,284.0 293.8,283.9 294.5,283.8 295.2,283.8 295.9,283.7 296.7,283.6 297.4,283.6 298.1,283.6 298.8,283.5 299.5,283.5 300.2,283.6 300.9,283.6 301.6,283.6 302.3,283.7 303.0,283.8 303.8,283.8 304.5,283.9 305.2,284.0 305.9,284.1 306.6,284.2 307.3,284.2 308.0,284.3 308.7,284.4 309.4,284.4 310.1,284.4 310.8,284.4 311.6,284.4 312.3,284.4 313.0,284.4 313.7,284.3 314.4,284.3 315.1,284.2 315.8,284.1 316.5,284.1 317.2,284.0 317.9,283.9 318.7,283.8 319.4,283.7 320.1,283.7 320.8,283.6 321.5,283.6 322.2,283.6 322.9,283.5 323.6,283.5 324.3,283.6 325.0,283.6 325.8,283.6 326.5,283.7 327.2,283.8 327.9,283.8 328.6,283.9 329.3,284.0" fill="none" stroke="#ff20ee" stroke-width="1.45" stroke-linejoin="round" stroke-linecap="round"/>
<rect x="231.2" y="241.6" width="91.4" height="17.7" fill="#fff" stroke="#222" stroke-width="1.2"/>
<path d="M233.5 246.2H252.5" stroke="#ff20ee" stroke-width="1.45" fill="none"/>
<path d="M233.5 254.6H252.5" stroke="#dc5418" stroke-width="1.2" fill="none"/>
<text x="255.5" y="249" font-family="Liberation Serif,serif" font-size="7.88" font-weight="bold" text-anchor="start" fill="#151515" textLength="65" lengthAdjust="spacingAndGlyphs" stroke="#151515" stroke-width="0.3">DC BUS VOLTAGE</text>
<text x="255.5" y="257.6" font-family="Liberation Serif,serif" font-size="7.88" font-weight="bold" text-anchor="start" fill="#151515" textLength="65" lengthAdjust="spacingAndGlyphs" stroke="#151515" stroke-width="0.3">AC BUS VOLTAGE</text>
<text x="146" y="281.08" font-family="Liberation Serif,serif" font-size="7.81" font-weight="bold" text-anchor="start" fill="#151515" textLength="41" lengthAdjust="spacingAndGlyphs" stroke="#151515" stroke-width="0.3">Oscillations</text>
<path d="M79.5 299V289.28" stroke="#111" stroke-width="1.5" fill="none"/>
<path d="M79.5 285.5L76.03 293.69L79.5 291.17L82.97 293.69Z" fill="#111"/>
<text x="69.5" y="306.4" font-family="Liberation Serif,serif" font-size="7.86" font-weight="bold" text-anchor="start" fill="#151515" textLength="19.3" lengthAdjust="spacingAndGlyphs" stroke="#151515" stroke-width="0.3">470 V</text>
<text x="165.6" y="417.99" font-family="Liberation Serif,serif" font-size="14.2" font-weight="bold" text-anchor="start" fill="#151515" textLength="13.4" lengthAdjust="spacingAndGlyphs" stroke="#151515" stroke-width="0.3">(i)</text>
</g>
<g id="fig-j">
<rect x="373.5" y="239.2" width="301.6" height="123.4" fill="#fff" stroke="#222" stroke-width="1.4"/>
<path d="M423.77 362.6v-3.5 M423.77 239.2v3.5 M474.03 362.6v-3.5 M474.03 239.2v3.5 M524.3 362.6v-3.5 M524.3 239.2v3.5 M574.57 362.6v-3.5 M574.57 239.2v3.5 M624.83 362.6v-3.5 M624.83 239.2v3.5 M373.5 351.1h3.5 M675.1 351.1h-3.5 M373.5 323.13h3.5 M675.1 323.13h-3.5 M373.5 295.16h3.5 M675.1 295.16h-3.5 M373.5 267.19h3.5 M675.1 267.19h-3.5" stroke="#222" stroke-width="1.4" fill="none"/>
<text x="366" y="354.14" font-family="Liberation Serif,serif" font-size="7.4" font-weight="bold" text-anchor="start" fill="#151515" textLength="4" lengthAdjust="spacingAndGlyphs" stroke="#151515" stroke-width="0.3">0</text>
<text x="358.01" y="326.17" font-family="Liberation Serif,serif" font-size="7.4" font-weight="bold" text-anchor="start" fill="#151515" textLength="11.99" lengthAdjust="spacingAndGlyphs" stroke="#151515" stroke-width="0.3">200</text>
<text x="358.01" y="298.2" font-family="Liberation Serif,serif" font-size="7.4" font-weight="bold" text-anchor="start" fill="#151515" textLength="11.99" lengthAdjust="spacingAndGlyphs" stroke="#151515" stroke-width="0.3">400</text>
<text x="358.01" y="270.23" font-family="Liberation Serif,serif" font-size="7.4" font-weight="bold" text-anchor="start" fill="#151515" textLength="11.99" lengthAdjust="spacingAndGlyphs" stroke="#151515" stroke-width="0.3">600</text>
<text x="358.01" y="242.26" font-family="Liberation Serif,serif" font-size="7.4" font-weight="bold" text-anchor="start" fill="#151515" textLength="11.99" lengthAdjust="spacingAndGlyphs" stroke="#151515" stroke-width="0.3">800</text>
<text x="367" y="372.04" font-family="Liberation Serif,serif" font-size="7.4" font-weight="bold" text-anchor="start" fill="#151515" textLength="9.99" lengthAdjust="spacingAndGlyphs" stroke="#151515" stroke-width="0.3">0.5</text>
<text x="416.77" y="372.04" font-family="Liberation Serif,serif" font-size="7.4" font-weight="bold" text-anchor="start" fill="#151515" textLength="13.99" lengthAdjust="spacingAndGlyphs" stroke="#151515" stroke-width="0.3">0.75</text>
<text x="472.04" y="372.04" font-family="Liberation Serif,serif" font-size="7.4" font-weight="bold" text-anchor="start" fill="#151515" textLength="4" lengthAdjust="spacingAndGlyphs" stroke="#151515" stroke-width="0.3">1</text>
<text x="517.31" y="372.04" font-family="Liberation Serif,serif" font-size="7.4" font-weight="bold" text-anchor="start" fill="#151515" textLength="13.99" lengthAdjust="spacingAndGlyphs" stroke="#151515" stroke-width="0.3">1.25</text>
<text x="569.57" y="372.04" font-family="Liberation Serif,serif" font-size="7.4" font-weight="bold" text-anchor="start" fill="#151515" textLength="9.99" lengthAdjust="spacingAndGlyphs" stroke="#151515" stroke-width="0.3">1.5</text>
<text x="617.84" y="372.04" font-family="Liberation Serif,serif" font-size="7.4" font-weight="bold" text-anchor="start" fill="#151515" textLength="13.99" lengthAdjust="spacingAndGlyphs" stroke="#151515" stroke-width="0.3">1.75</text>
<text x="673.1" y="372.04" font-family="Liberation Serif,serif" font-size="7.4" font-weight="bold" text-anchor="start" fill="#151515" textLength="4" lengthAdjust="spacingAndGlyphs" stroke="#151515" stroke-width="0.3">2</text>
<text x="506.5" y="377.73" font-family="Liberation Serif,serif" font-size="7.67" font-weight="bold" text-anchor="start" fill="#151515" textLength="38.5" lengthAdjust="spacingAndGlyphs" stroke="#151515" stroke-width="0.3">Time (Sec)</text>
<g transform="rotate(-90 355.71 290)">
<text x="335.71" y="290" font-family="Liberation Serif,serif" font-size="7.3" font-weight="bold" text-anchor="start" fill="#151515" textLength="40" lengthAdjust="spacingAndGlyphs" stroke="#151515" stroke-width="0.3">Voltage (V)</text>
</g>
<text x="484.5" y="254.16" font-family="Liberation Serif,serif" font-size="7.75" font-weight="bold" text-anchor="start" fill="#151515" textLength="64.5" lengthAdjust="spacingAndGlyphs" stroke="#151515" stroke-width="0.3">Proposed Method</text>
<ellipse cx="544.2" cy="284.9" rx="130.4" ry="7.8" fill="none" stroke="#2a2a2a" stroke-width="1"/>
<path d="M373.5 318.7H675.1" stroke="#c65a60" stroke-width="1.6" fill="none"/>
<polyline points="373.5,285.4 373.9,285.4 374.3,285.4 374.8,285.4 375.2,285.4 375.6,285.4 376.0,285.4 376.5,285.7 376.9,286.4 377.3,287.1 377.7,287.8 378.1,288.6 378.6,289.6 379.0,290.6 379.4,291.5 379.8,292.4 380.3,293.0 380.7,293.4 381.1,293.5 381.5,293.4 381.9,293.2 382.4,293.0 382.8,292.7 383.2,292.3 383.6,291.9 384.1,291.5 384.5,291.0 384.9,290.5 385.3,289.7 385.7,288.8 386.2,287.7 386.6,286.7 387.0,285.7 387.4,284.8 387.9,284.1 388.3,283.6 388.7,283.1 389.1,282.7 389.6,282.3 390.0,282.0 390.4,281.9 390.8,281.9 391.2,282.0 391.7,282.2 392.1,282.4 392.5,282.6 392.9,282.9 393.4,283.1 393.8,283.4 394.2,283.6 394.6,283.9 395.0,284.3 395.5,284.6 395.9,285.0 396.3,285.3 396.7,285.6 397.2,285.9 397.6,286.2 398.0,286.4 398.4,286.6 398.8,286.7 399.3,286.8 399.7,286.8 400.1,286.7 400.5,286.7 401.0,286.6 401.4,286.5 401.8,286.5 402.2,286.4 402.6,286.3 403.1,286.2 403.5,286.1 403.9,286.0 404.3,285.9 404.8,285.8 405.2,285.7 405.6,285.7 406.0,285.6 406.4,285.6 406.9,285.5 407.3,285.4 407.7,285.4 408.1,285.3 408.6,285.3 409.0,285.2 409.4,285.2 409.8,285.2 410.2,285.1 410.7,285.1 411.1,285.1 411.5,285.1 411.9,285.1 412.4,285.1 412.8,285.1 413.2,285.1 413.6,285.2 414.1,285.2 414.5,285.2 414.9,285.2 415.3,285.3 415.7,285.3 416.2,285.3 416.6,285.3 417.0,285.4 417.4,285.4 417.9,285.4 418.3,285.4 418.7,285.4 419.1,285.4 419.5,285.4 420.0,285.4 420.4,285.4 420.8,285.4 421.2,285.4 421.7,285.4 422.1,285.4 422.5,285.4 422.9,285.4 423.3,285.4 423.8,285.4 437.0,285.4 450.2,285.4 463.5,285.4 476.7,285.4 489.9,285.4 503.1,285.4 516.4,285.4 529.6,285.4 542.8,285.4 556.0,285.4 569.3,285.4 582.5,285.4 595.7,285.4 609.0,285.4 622.2,285.4 635.4,285.4 648.6,285.4 661.9,285.4 675.1,285.4" fill="none" stroke="#ff20ee" stroke-width="1.45" stroke-linejoin="round" stroke-linecap="round"/>
<rect x="573.5" y="242.6" width="96" height="17" fill="#fff" stroke="#222" stroke-width="1.2"/>
<path d="M576 247.5H596.8" stroke="#ff20ee" stroke-width="1.5" fill="none"/>
<path d="M576 255.5H596.8" stroke="#dc5418" stroke-width="1.3" fill="none"/>
<text x="599" y="250.36" font-family="Liberation Serif,serif" font-size="7.77" font-weight="bold" text-anchor="start" fill="#151515" textLength="67.5" lengthAdjust="spacingAndGlyphs" stroke="#151515" stroke-width="0.3">DC BUS VOLTAGE</text>
<text x="599" y="258.16" font-family="Liberation Serif,serif" font-size="7.77" font-weight="bold" text-anchor="start" fill="#151515" textLength="67.5" lengthAdjust="spacingAndGlyphs" stroke="#151515" stroke-width="0.3">AC BUS VOLTAGE</text>
<path d="M411 300.6V291.08" stroke="#111" stroke-width="1.7" fill="none"/>
<path d="M411 287L407.26 295.84L411 293.12L414.74 295.84Z" fill="#111"/>
<text x="403" y="307.83" font-family="Liberation Serif,serif" font-size="7.96" font-weight="bold" text-anchor="start" fill="#151515" textLength="20.5" lengthAdjust="spacingAndGlyphs" stroke="#151515" stroke-width="0.3">470 V</text>
<text x="491.01" y="418.22" font-family="Liberation Sans,sans-serif" font-size="14" font-weight="normal" text-anchor="start" fill="#151515" textLength="15.17" lengthAdjust="spacingAndGlyphs" stroke="#151515" stroke-width="0.15">(j)</text>
</g>
<g id="fig-k">
<rect x="35.3" y="444.1" width="302" height="120.9" fill="#fff" stroke="#222" stroke-width="1.55"/>
<path d="M135.97 565v-3.5 M135.97 444.1v3.5 M236.63 565v-3.5 M236.63 444.1v3.5 M35.3 555.9h3.5 M337.3 555.9h-3.5 M35.3 533.65h3.5 M337.3 533.65h-3.5 M35.3 511.4h3.5 M337.3 511.4h-3.5 M35.3 489.15h3.5 M337.3 489.15h-3.5 M35.3 466.9h3.5 M337.3 466.9h-3.5" stroke="#222" stroke-width="1.55" fill="none"/>
<text x="28.68" y="559.1" font-family="Liberation Serif,serif" font-size="8.8" font-weight="normal" text-anchor="start" fill="#151515" textLength="3.52" lengthAdjust="spacingAndGlyphs" stroke="#151515" stroke-width="0.25">0</text>
<text x="28.68" y="536.85" font-family="Liberation Serif,serif" font-size="8.8" font-weight="normal" text-anchor="start" fill="#151515" textLength="3.52" lengthAdjust="spacingAndGlyphs" stroke="#151515" stroke-width="0.25">5</text>
<text x="25.16" y="514.6" font-family="Liberation Serif,serif" font-size="8.8" font-weight="normal" text-anchor="start" fill="#151515" textLength="7.04" lengthAdjust="spacingAndGlyphs" stroke="#151515" stroke-width="0.25">10</text>
<text x="25.16" y="492.35" font-family="Liberation Serif,serif" font-size="8.8" font-weight="normal" text-anchor="start" fill="#151515" textLength="7.04" lengthAdjust="spacingAndGlyphs" stroke="#151515" stroke-width="0.25">15</text>
<text x="25.16" y="470.1" font-family="Liberation Serif,serif" font-size="8.8" font-weight="normal" text-anchor="start" fill="#151515" textLength="7.04" lengthAdjust="spacingAndGlyphs" stroke="#151515" stroke-width="0.25">20</text>
<text x="25.16" y="447.85" font-family="Liberation Serif,serif" font-size="8.8" font-weight="normal" text-anchor="start" fill="#151515" textLength="7.04" lengthAdjust="spacingAndGlyphs" stroke="#151515" stroke-width="0.25">25</text>
<text x="31.3" y="576.4" font-family="Liberation Serif,serif" font-size="8.8" font-weight="normal" text-anchor="start" fill="#151515" textLength="8.8" lengthAdjust="spacingAndGlyphs" stroke="#151515" stroke-width="0.25">0.5</text>
<text x="134.61" y="576.4" font-family="Liberation Serif,serif" font-size="8.8" font-weight="normal" text-anchor="start" fill="#151515" textLength="3.52" lengthAdjust="spacingAndGlyphs" stroke="#151515" stroke-width="0.25">1</text>
<text x="232.63" y="576.4" font-family="Liberation Serif,serif" font-size="8.8" font-weight="normal" text-anchor="start" fill="#151515" textLength="8.8" lengthAdjust="spacingAndGlyphs" stroke="#151515" stroke-width="0.25">1.5</text>
<text x="335.94" y="576.4" font-family="Liberation Serif,serif" font-size="8.8" font-weight="normal" text-anchor="start" fill="#151515" textLength="3.52" lengthAdjust="spacingAndGlyphs" stroke="#151515" stroke-width="0.25">2</text>
<text x="162.3" y="585.49" font-family="Liberation Serif,serif" font-size="8.76" font-weight="bold" text-anchor="start" fill="#151515" textLength="30.8" lengthAdjust="spacingAndGlyphs" stroke="#151515" stroke-width="0.3">Time (sec)</text>
<g transform="rotate(-90 11.9 513)"><text x="-10.9" y="513" font-family="Liberation Serif,serif" font-size="10.7" font-weight="bold" fill="#151515" stroke="#151515" stroke-width="0.25" textLength="45.6" lengthAdjust="spacingAndGlyphs">P<tspan font-size="6.3" dy="1.6">acload</tspan><tspan dy="-1.6"> (kW)</tspan></text></g>
<polyline points="35.3,467.8 37.3,467.4 39.3,467.1 42.3,466.9 45.4,466.9 337.3,466.9" fill="none" stroke="#2626ff" stroke-width="1.5" stroke-linejoin="round" stroke-linecap="round"/>
<rect x="239.3" y="450.6" width="91.6" height="10.7" fill="#fff" stroke="#222" stroke-width="1.3"/>
<path d="M247 456H264.8" stroke="#2626ff" stroke-width="1.3" fill="none"/>
<text x="267.1" y="459.15" font-family="Liberation Serif,serif" font-size="10.75" font-weight="bold" text-anchor="start" fill="#151515" textLength="59.5" lengthAdjust="spacingAndGlyphs" stroke="#151515" stroke-width="0.3">AC Load power</text>
<path d="M108.8 475.1H39.4" stroke="#111" stroke-width="1.6" fill="none"/>
<path d="M35.8 475.1L43.6 471.8L41.2 475.1L43.6 478.4Z" fill="#111"/>
<text x="115.5" y="478.27" font-family="Liberation Serif,serif" font-size="9.01" font-weight="bold" text-anchor="start" fill="#151515" textLength="134.5" lengthAdjust="spacingAndGlyphs" stroke="#151515" stroke-width="0.3">(Critical load + Non - critical load = 20 kW)</text>
<path d="M254.5 475.1H333.2" stroke="#111" stroke-width="1.6" fill="none"/>
<path d="M336.8 475.1L329 471.8L331.4 475.1L329 478.4Z" fill="#111"/>
<text x="177.58" y="602.42" font-family="Liberation Serif,serif" font-size="14.6" font-weight="bold" text-anchor="start" fill="#151515" textLength="17.84" lengthAdjust="spacingAndGlyphs" stroke="#151515" stroke-width="0.3">(k)</text>
</g>
<g id="fig-l">
<rect x="371.1" y="444.1" width="311.3" height="120.9" fill="#fff" stroke="#222" stroke-width="1.6"/>
<path d="M474.87 565v-3.8 M474.87 444.1v3.8 M578.63 565v-3.8 M578.63 444.1v3.8 M371.1 554.2h3.8 M682.4 554.2h-3.8 M371.1 530.55h3.8 M682.4 530.55h-3.8 M371.1 506.9h3.8 M682.4 506.9h-3.8 M371.1 483.25h3.8 M682.4 483.25h-3.8 M371.1 459.6h3.8 M682.4 459.6h-3.8" stroke="#222" stroke-width="1.6" fill="none"/>
<text x="364.84" y="557.27" font-family="Liberation Serif,serif" font-size="8.4" font-weight="normal" text-anchor="start" fill="#151515" textLength="3.36" lengthAdjust="spacingAndGlyphs" stroke="#151515" stroke-width="0.25">0</text>
<text x="364.84" y="533.62" font-family="Liberation Serif,serif" font-size="8.4" font-weight="normal" text-anchor="start" fill="#151515" textLength="3.36" lengthAdjust="spacingAndGlyphs" stroke="#151515" stroke-width="0.25">1</text>
<text x="364.84" y="509.97" font-family="Liberation Serif,serif" font-size="8.4" font-weight="normal" text-anchor="start" fill="#151515" textLength="3.36" lengthAdjust="spacingAndGlyphs" stroke="#151515" stroke-width="0.25">2</text>
<text x="364.84" y="486.32" font-family="Liberation Serif,serif" font-size="8.4" font-weight="normal" text-anchor="start" fill="#151515" textLength="3.36" lengthAdjust="spacingAndGlyphs" stroke="#151515" stroke-width="0.25">3</text>
<text x="364.84" y="462.67" font-family="Liberation Serif,serif" font-size="8.4" font-weight="normal" text-anchor="start" fill="#151515" textLength="3.36" lengthAdjust="spacingAndGlyphs" stroke="#151515" stroke-width="0.25">4</text>
<text x="365.94" y="578.67" font-family="Liberation Serif,serif" font-size="9.6" font-weight="normal" text-anchor="start" fill="#151515" textLength="10.32" lengthAdjust="spacingAndGlyphs" stroke="#151515" stroke-width="0.25">0.5</text>
<text x="472.8" y="578.67" font-family="Liberation Serif,serif" font-size="9.6" font-weight="normal" text-anchor="start" fill="#151515" textLength="4.13" lengthAdjust="spacingAndGlyphs" stroke="#151515" stroke-width="0.25">1</text>
<text x="573.47" y="578.67" font-family="Liberation Serif,serif" font-size="9.6" font-weight="normal" text-anchor="start" fill="#151515" textLength="10.32" lengthAdjust="spacingAndGlyphs" stroke="#151515" stroke-width="0.25">1.5</text>
<text x="681.94" y="578.67" font-family="Liberation Serif,serif" font-size="9.6" font-weight="normal" text-anchor="start" fill="#151515" textLength="4.13" lengthAdjust="spacingAndGlyphs" stroke="#151515" stroke-width="0.25">2</text>
<text x="500.5" y="581.78" font-family="Liberation Serif,serif" font-size="9.94" font-weight="normal" text-anchor="start" fill="#151515" textLength="36.5" lengthAdjust="spacingAndGlyphs" stroke="#151515" stroke-width="0.32">Time (sec)</text>
<g transform="rotate(-90 359 498.2)"><text x="332.85" y="498.2" font-family="Liberation Serif,serif" font-size="8.7" font-weight="bold" fill="#151515" stroke="#151515" stroke-width="0.25" textLength="52.3" lengthAdjust="spacingAndGlyphs">P<tspan font-size="6.8" dy="2.2">dcload</tspan><tspan dy="-2.2"> (kW)</tspan></text></g>
<polyline points="371.1,502.4 371.5,502.4 372.0,502.4 372.4,502.4 372.8,502.4 373.3,502.4 373.7,502.4 374.2,502.4 374.6,502.5 375.0,503.1 375.5,504.0 375.9,505.1 376.3,506.2 376.8,507.7 377.2,509.3 377.6,510.8 378.1,512.2 378.5,513.1 378.9,513.5 379.4,513.5 379.8,513.3 380.3,513.0 380.7,512.6 381.1,512.2 381.6,511.7 382.0,511.2 382.4,510.6 382.9,509.9 383.3,509.0 383.7,508.0 384.2,506.9 384.6,505.7 385.1,504.5 385.5,503.4 385.9,502.4 386.4,501.5 386.8,500.4 387.2,499.3 387.7,498.3 388.1,497.6 388.5,497.2 389.0,497.1 389.4,497.3 389.8,497.7 390.3,498.1 390.7,498.6 391.2,499.1 391.6,499.6 392.0,499.9 392.5,500.3 392.9,500.7 393.3,501.1 393.8,501.5 394.2,501.9 394.6,502.3 395.1,502.6 395.5,503.0 396.0,503.3 396.4,503.5 396.8,503.8 397.3,503.9 397.7,504.0 398.1,504.1 398.6,504.0 399.0,504.0 399.4,503.9 399.9,503.8 400.3,503.7 400.7,503.6 401.2,503.5 401.6,503.4 402.1,503.2 402.5,503.1 402.9,503.0 403.4,502.9 403.8,502.7 404.2,502.7 404.7,502.6 405.1,502.5 405.5,502.4 406.0,502.3 406.4,502.2 406.9,502.1 407.3,502.1 407.7,502.0 408.2,501.9 408.6,501.8 409.0,501.8 409.5,501.7 409.9,501.7 410.3,501.7 410.8,501.7 411.2,501.7 411.6,501.7 412.1,501.8 412.5,501.8 413.0,501.9 413.4,501.9 413.8,502.0 414.3,502.0 414.7,502.0 415.1,502.1 415.6,502.1 416.0,502.2 416.4,502.2 416.9,502.2 417.3,502.2 417.8,502.2 418.2,502.2 418.6,502.2 419.1,502.2 419.5,502.2 419.9,502.2 420.4,502.2 420.8,502.2 421.2,502.2 421.7,502.2 422.1,502.2 422.5,502.2 423.0,502.2 436.6,502.2 450.3,502.2 463.9,502.2 477.6,502.2 491.3,502.2 504.9,502.2 518.6,502.2 532.2,502.2 545.9,502.2 559.5,502.2 573.2,502.2 586.8,502.2 600.5,502.2 614.1,502.2 627.8,502.2 641.4,502.2 655.1,502.2 668.7,502.2 682.4,502.2" fill="none" stroke="#ff18e8" stroke-width="1.8" stroke-linejoin="round" stroke-linecap="round"/>
<rect x="607.5" y="449.8" width="70.6" height="12.3" fill="#fff" stroke="#222" stroke-width="1.5"/>
<path d="M609.3 455.8H627.8" stroke="#ff18e8" stroke-width="2" fill="none"/>
<text x="630" y="459.74" font-family="Liberation Serif,serif" font-size="8.61" font-weight="normal" text-anchor="start" fill="#151515" textLength="45.5" lengthAdjust="spacingAndGlyphs" stroke="#151515" stroke-width="0.3">DC Load power</text>
<path d="M453 517H375.12" stroke="#111" stroke-width="1.5" fill="none"/>
<path d="M371.4 517L379.46 513.59L376.98 517L379.46 520.41Z" fill="#111"/>
<text x="459" y="520.02" font-family="Liberation Serif,serif" font-size="9.15" font-weight="bold" text-anchor="start" fill="#151515" textLength="140" lengthAdjust="spacingAndGlyphs" stroke="#151515" stroke-width="0.3">(Critical load + Non - critical load = 22 kW)</text>
<path d="M605.5 517H678.28" stroke="#111" stroke-width="1.5" fill="none"/>
<path d="M682 517L673.94 513.59L676.42 517L673.94 520.41Z" fill="#111"/>
<text x="491.05" y="601.72" font-family="Liberation Serif,serif" font-size="14.3" font-weight="bold" text-anchor="start" fill="#151515" textLength="13.5" lengthAdjust="spacingAndGlyphs" stroke="#151515" stroke-width="0.3">(l)</text>
</g>
<defs>
<filter id="sh" x="-20%" y="-20%" width="140%" height="160%"><feGaussianBlur stdDeviation="3"/></filter>
<linearGradient id="gPV" x1="0" x2="1" y1="0" y2="0"><stop offset="0" stop-color="#f00000"/><stop offset="0.45" stop-color="#cc0000"/><stop offset="1" stop-color="#780000"/></linearGradient>
<linearGradient id="gPM" x1="0" x2="1" y1="0" y2="0"><stop offset="0" stop-color="#6a6a00"/><stop offset="1" stop-color="#7c7c00"/></linearGradient>
<linearGradient id="gAC" x1="0" x2="1" y1="0" y2="0"><stop offset="0" stop-color="#e46000"/><stop offset="1" stop-color="#d45600"/></linearGradient>
<linearGradient id="gGR" x1="0" x2="1" y1="0" y2="0"><stop offset="0" stop-color="#000066"/><stop offset="0.8" stop-color="#00005a"/><stop offset="1" stop-color="#000034"/></linearGradient>
<linearGradient id="gTop" x1="0" x2="0" y1="0" y2="1"><stop offset="0" stop-color="#fff" stop-opacity="0"/><stop offset="0.8" stop-color="#fff" stop-opacity="0"/><stop offset="1" stop-color="#000" stop-opacity="0.12"/></linearGradient>
</defs>
<ellipse cx="344" cy="753" rx="117" ry="54" fill="#000" opacity="0.22" filter="url(#sh)"/>
<path d="M459.62 719.52 L459.71 720.08 L459.78 720.63 L459.85 721.19 L459.9 721.74 L459.95 722.3 L459.98 722.85 L459.99 723.41 L460 723.96 L459.99 724.52 L459.98 725.08 L459.95 725.63 L459.91 726.19 L459.86 726.74 L459.79 727.3 L459.72 727.85 L459.63 728.4 L459.53 728.96 L459.42 729.51 L459.3 730.06 L459.17 730.61 L459.02 731.17 L458.86 731.72 L458.7 732.27 L458.52 732.82 L458.32 733.36 L458.12 733.91 L457.91 734.46 L457.68 735 L457.44 735.55 L457.19 736.09 L456.93 736.63 L456.66 737.17 L456.38 737.71 L456.08 738.25 L455.78 738.79 L455.46 739.32 L455.13 739.85 L454.79 740.39 L454.44 740.92 L453.49 761.65 L453.84 761.1 L454.17 760.55 L454.5 760 L454.81 759.44 L455.12 758.89 L455.41 758.34 L455.69 757.78 L455.96 757.23 L456.22 756.67 L456.46 756.12 L456.7 755.56 L456.92 755 L457.14 754.45 L457.34 753.89 L457.53 753.33 L457.71 752.77 L457.87 752.21 L458.03 751.65 L458.17 751.09 L458.31 750.54 L458.43 749.98 L458.54 749.42 L458.63 748.86 L458.72 748.3 L458.8 747.74 L458.86 747.18 L458.91 746.63 L458.95 746.07 L458.98 745.51 L458.99 744.96 L459 744.4 L458.99 743.84 L458.98 743.29 L458.95 742.74 L458.9 742.18 L458.85 741.63 L458.79 741.08 L458.71 740.53 L458.62 739.98Z" fill="url(#gGR)"/>
<path d="M454.44 740.92 L453.46 742.31 L452.4 743.7 L451.26 745.07 L450.04 746.42 L448.75 747.76 L447.39 749.09 L445.95 750.39 L444.44 751.68 L442.86 752.95 L441.21 754.2 L439.49 755.43 L437.7 756.64 L435.85 757.82 L433.92 758.98 L431.94 760.12 L429.89 761.23 L427.78 762.32 L425.61 763.38 L423.39 764.41 L421.1 765.41 L418.76 766.39 L416.37 767.34 L413.92 768.25 L411.43 769.14 L408.88 770 L406.29 770.82 L403.65 771.61 L400.97 772.37 L398.25 773.09 L395.49 773.78 L392.69 774.44 L389.86 775.06 L386.99 775.65 L384.09 776.2 L381.17 776.71 L378.21 777.19 L375.23 777.63 L372.22 778.04 L369.19 778.41 L368.96 803.6 L371.96 803.12 L374.94 802.56 L377.9 801.96 L380.83 801.32 L383.73 800.65 L386.61 799.95 L389.45 799.21 L392.26 798.44 L395.04 797.63 L397.77 796.8 L400.47 795.93 L403.13 795.03 L405.74 794.1 L408.31 793.14 L410.83 792.15 L413.31 791.13 L415.73 790.08 L418.11 789.01 L420.43 787.91 L422.69 786.78 L424.9 785.63 L427.05 784.46 L429.14 783.26 L431.17 782.04 L433.14 780.8 L435.05 779.54 L436.89 778.25 L438.66 776.95 L440.37 775.63 L442.01 774.3 L443.57 772.94 L445.07 771.57 L446.5 770.19 L447.85 768.79 L449.13 767.39 L450.33 765.97 L451.46 764.54 L452.51 763.09 L453.49 761.65Z" fill="url(#gPM)"/>
<path d="M369.19 778.41 L365.45 778.8 L361.69 779.15 L357.9 779.43 L354.1 779.66 L350.29 779.83 L346.46 779.94 L342.63 779.99 L338.79 779.99 L334.96 779.93 L331.14 779.81 L327.32 779.63 L323.52 779.39 L319.74 779.1 L315.98 778.75 L312.25 778.34 L308.54 777.88 L304.87 777.36 L301.24 776.78 L297.65 776.15 L294.1 775.47 L290.6 774.73 L287.16 773.94 L283.77 773.1 L280.44 772.2 L277.17 771.26 L273.97 770.27 L270.83 769.23 L267.77 768.14 L264.79 767.01 L261.89 765.83 L259.07 764.61 L256.33 763.35 L253.68 762.04 L251.12 760.7 L248.65 759.32 L246.29 757.9 L244.01 756.45 L241.84 754.96 L239.78 753.44 L240.63 777.43 L242.68 778.97 L244.83 780.48 L247.08 781.95 L249.43 783.39 L251.88 784.8 L254.41 786.16 L257.04 787.49 L259.75 788.78 L262.55 790.03 L265.43 791.23 L268.39 792.39 L271.42 793.51 L274.53 794.58 L277.7 795.6 L280.94 796.57 L284.25 797.5 L287.61 798.37 L291.03 799.19 L294.49 799.96 L298.01 800.68 L301.57 801.34 L305.18 801.95 L308.82 802.51 L312.49 803 L316.19 803.45 L319.92 803.83 L323.67 804.16 L327.44 804.43 L331.22 804.65 L335.01 804.8 L338.81 804.9 L342.61 804.94 L346.41 804.92 L350.21 804.85 L353.99 804.71 L357.76 804.52 L361.52 804.27 L365.25 803.96 L368.96 803.6Z" fill="url(#gPV)"/>
<path d="M239.78 753.44 L238.77 752.67 L237.8 751.88 L236.85 751.09 L235.93 750.29 L235.03 749.48 L234.17 748.67 L233.33 747.85 L232.52 747.02 L231.74 746.19 L230.99 745.35 L230.27 744.51 L229.57 743.66 L228.91 742.8 L228.27 741.94 L227.67 741.08 L227.09 740.21 L226.55 739.34 L226.04 738.46 L225.55 737.58 L225.1 736.7 L224.68 735.81 L224.28 734.92 L223.92 734.02 L223.59 733.13 L223.29 732.23 L223.02 731.33 L222.79 730.42 L222.58 729.52 L222.4 728.61 L222.26 727.71 L222.15 726.8 L222.07 725.89 L222.02 724.98 L222 724.07 L222.01 723.16 L222.06 722.25 L222.13 721.34 L222.24 720.43 L222.38 719.52 L223.38 743.35 L223.24 744.26 L223.13 745.17 L223.06 746.07 L223.01 746.98 L223 747.89 L223.02 748.8 L223.07 749.71 L223.15 750.62 L223.26 751.53 L223.4 752.44 L223.57 753.35 L223.78 754.25 L224.01 755.16 L224.28 756.06 L224.58 756.96 L224.91 757.86 L225.26 758.76 L225.65 759.66 L226.07 760.55 L226.52 761.44 L227 762.32 L227.51 763.2 L228.05 764.08 L228.62 764.96 L229.22 765.82 L229.85 766.69 L230.51 767.55 L231.2 768.41 L231.91 769.26 L232.66 770.1 L233.43 770.94 L234.23 771.78 L235.06 772.6 L235.92 773.43 L236.81 774.24 L237.72 775.05 L238.66 775.85 L239.63 776.64 L240.63 777.43Z" fill="url(#gAC)"/>
<clipPath id="pc"><path d="M222 724 L222.17 721.02 L222.67 718.05 L223.52 715.09 L224.69 712.16 L226.19 709.27 L228.02 706.41 L230.17 703.61 L232.63 700.86 L235.41 698.18 L238.48 695.57 L241.84 693.04 L245.48 690.6 L249.39 688.26 L253.56 686.01 L257.98 683.88 L262.64 681.86 L267.51 679.95 L272.6 678.18 L277.88 676.53 L283.34 675.01 L288.96 673.64 L294.73 672.41 L300.63 671.32 L306.65 670.38 L312.76 669.6 L318.95 668.97 L325.21 668.5 L331.51 668.18 L337.83 668.02 L344.17 668.02 L350.49 668.18 L356.79 668.5 L363.05 668.97 L369.24 669.6 L375.35 670.38 L381.37 671.32 L387.27 672.41 L393.04 673.64 L398.66 675.01 L404.12 676.53 L409.4 678.18 L414.49 679.95 L419.36 681.86 L424.02 683.88 L428.44 686.01 L432.61 688.26 L436.52 690.6 L440.16 693.04 L443.52 695.57 L446.59 698.18 L449.37 700.86 L451.83 703.61 L453.98 706.41 L455.81 709.27 L457.31 712.16 L458.48 715.09 L459.33 718.05 L459.83 721.02 L460 724 L459 744.44 L458.83 747.42 L458.33 750.42 L457.5 753.42 L456.33 756.42 L454.84 759.39 L453.03 762.34 L450.9 765.26 L448.45 768.14 L445.71 770.97 L442.66 773.74 L439.33 776.44 L435.72 779.07 L431.84 781.63 L427.7 784.09 L423.32 786.46 L418.7 788.73 L413.87 790.89 L408.82 792.94 L403.59 794.87 L398.18 796.67 L392.6 798.34 L386.88 799.88 L381.03 801.28 L375.07 802.53 L369 803.59 L362.86 804.17 L356.66 804.58 L350.41 804.84 L344.14 804.94 L337.86 804.88 L331.59 804.66 L325.34 804.29 L319.14 803.76 L313 803.07 L306.93 802.23 L300.97 801.23 L295.12 800.09 L289.4 798.81 L283.82 797.38 L278.41 795.82 L273.18 794.12 L268.13 792.29 L263.3 790.35 L258.68 788.28 L254.3 786.1 L250.16 783.82 L246.28 781.44 L242.67 778.96 L239.34 776.41 L236.29 773.77 L233.55 771.06 L231.1 768.29 L228.97 765.47 L227.16 762.6 L225.67 759.69 L224.5 756.74 L223.67 753.78 L223.17 750.81 L223 747.82Z"/></clipPath>
<filter id="bv" x="-5%" y="-5%" width="110%" height="110%"><feGaussianBlur stdDeviation="1.4"/></filter>
<g clip-path="url(#pc)"><g filter="url(#bv)" transform="translate(0 1.6)" opacity="0.9">
<path d="M340.5 712 L341 668 L346.77 668.07 L352.52 668.26 L358.25 668.59 L363.94 669.05 L369.57 669.64 L375.13 670.35 L380.62 671.19 L386.01 672.16 L391.3 673.25 L396.47 674.45 L401.5 675.78 L406.4 677.21Z" fill="#00ffff"/>
<path d="M340.5 712 L406.4 677.21 L411.18 678.77 L415.79 680.44 L420.22 682.21 L424.47 684.09 L428.51 686.05 L432.35 688.11 L435.97 690.25 L439.36 692.48 L442.51 694.78Z" fill="#f0106a"/>
<path d="M340.5 712 L442.51 694.78 L445.21 696.96 L447.69 699.19 L449.95 701.48 L452 703.81 L453.82 706.18 L455.41 708.59 L456.77 711.03 L457.89 713.5 L458.78 715.99 L459.42 718.49 L459.83 721.01 L460 723.53 L459.92 726.05 L459.6 728.57 L459.05 731.08 L458.25 733.57 L457.21 736.04 L455.94 738.5 L454.44 740.92Z" fill="#000078"/>
<path d="M340.5 712 L454.44 740.92 L452.73 743.28 L450.79 745.6 L448.64 747.88 L446.27 750.11 L443.7 752.29 L440.92 754.42 L437.94 756.48 L434.77 758.48 L431.41 760.41 L427.87 762.27 L424.17 764.05 L420.29 765.76 L416.26 767.38 L412.08 768.91 L407.76 770.36 L403.31 771.71 L398.73 772.97 L394.04 774.13 L389.24 775.19 L384.35 776.15 L379.37 777.01 L374.31 777.76 L369.19 778.41Z" fill="#ffff00"/>
<path d="M340.5 712 L369.19 778.41 L364.16 778.93 L359.08 779.35 L353.97 779.67 L348.84 779.88 L343.69 779.99 L338.53 779.99 L333.38 779.89 L328.24 779.68 L323.13 779.37 L318.05 778.95 L313.02 778.43 L308.03 777.81 L303.11 777.09 L298.26 776.26 L293.49 775.34 L288.81 774.33 L284.23 773.22 L279.75 772.01 L275.39 770.72 L271.15 769.34 L267.05 767.87 L263.08 766.33 L259.26 764.7 L255.59 762.99 L252.08 761.22 L248.74 759.37 L245.57 757.46 L242.58 755.48 L239.78 753.44Z" fill="#ff0000"/>
<path d="M340.5 712 L239.78 753.44 L237.13 751.33 L234.69 749.16 L232.45 746.94 L230.41 744.68 L228.59 742.38 L226.99 740.05 L225.61 737.68 L224.44 735.29 L223.5 732.88 L222.79 730.44 L222.3 728 L222.05 725.55 L222.02 723.1 L222.21 720.64 L222.64 718.2 L223.29 715.76 L224.17 713.34 L225.28 710.94 L226.61 708.57 L228.15 706.23 L229.92 703.92 L231.89 701.65 L234.08 699.42 L236.47 697.24Z" fill="#ff6600"/>
<path d="M340.5 712 L236.47 697.24 L239.15 695.04 L242.03 692.91 L245.11 690.83 L248.39 688.83 L251.86 686.9 L255.52 685.04 L259.34 683.26 L263.34 681.57 L267.49 679.96 L271.79 678.45 L276.23 677.02 L280.81 675.69 L285.5 674.46 L290.31 673.33 L295.23 672.31 L300.24 671.39 L305.33 670.58 L310.49 669.87 L315.72 669.28 L320.99 668.8 L326.31 668.43 L331.66 668.17Z" fill="#00ff00"/>
<path d="M340.5 712 L331.66 668.17 L333.53 668.11 L335.39 668.06 L337.26 668.03 L339.13 668.01 L341 668Z" fill="#8b4513"/>
</g></g>
<path d="M340.5 712 L341 668 L346.77 668.07 L352.52 668.26 L358.25 668.59 L363.94 669.05 L369.57 669.64 L375.13 670.35 L380.62 671.19 L386.01 672.16 L391.3 673.25 L396.47 674.45 L401.5 675.78 L406.4 677.21Z" fill="#00ffff" stroke="#00ffff" stroke-width="0.4"/>
<path d="M340.5 712 L406.4 677.21 L411.18 678.77 L415.79 680.44 L420.22 682.21 L424.47 684.09 L428.51 686.05 L432.35 688.11 L435.97 690.25 L439.36 692.48 L442.51 694.78Z" fill="#f0106a" stroke="#f0106a" stroke-width="0.4"/>
<path d="M340.5 712 L442.51 694.78 L445.21 696.96 L447.69 699.19 L449.95 701.48 L452 703.81 L453.82 706.18 L455.41 708.59 L456.77 711.03 L457.89 713.5 L458.78 715.99 L459.42 718.49 L459.83 721.01 L460 723.53 L459.92 726.05 L459.6 728.57 L459.05 731.08 L458.25 733.57 L457.21 736.04 L455.94 738.5 L454.44 740.92Z" fill="#000078" stroke="#000078" stroke-width="0.4"/>
<path d="M340.5 712 L454.44 740.92 L452.73 743.28 L450.79 745.6 L448.64 747.88 L446.27 750.11 L443.7 752.29 L440.92 754.42 L437.94 756.48 L434.77 758.48 L431.41 760.41 L427.87 762.27 L424.17 764.05 L420.29 765.76 L416.26 767.38 L412.08 768.91 L407.76 770.36 L403.31 771.71 L398.73 772.97 L394.04 774.13 L389.24 775.19 L384.35 776.15 L379.37 777.01 L374.31 777.76 L369.19 778.41Z" fill="#ffff00" stroke="#ffff00" stroke-width="0.4"/>
<path d="M340.5 712 L369.19 778.41 L364.16 778.93 L359.08 779.35 L353.97 779.67 L348.84 779.88 L343.69 779.99 L338.53 779.99 L333.38 779.89 L328.24 779.68 L323.13 779.37 L318.05 778.95 L313.02 778.43 L308.03 777.81 L303.11 777.09 L298.26 776.26 L293.49 775.34 L288.81 774.33 L284.23 773.22 L279.75 772.01 L275.39 770.72 L271.15 769.34 L267.05 767.87 L263.08 766.33 L259.26 764.7 L255.59 762.99 L252.08 761.22 L248.74 759.37 L245.57 757.46 L242.58 755.48 L239.78 753.44Z" fill="#ff0000" stroke="#ff0000" stroke-width="0.4"/>
<path d="M340.5 712 L239.78 753.44 L237.13 751.33 L234.69 749.16 L232.45 746.94 L230.41 744.68 L228.59 742.38 L226.99 740.05 L225.61 737.68 L224.44 735.29 L223.5 732.88 L222.79 730.44 L222.3 728 L222.05 725.55 L222.02 723.1 L222.21 720.64 L222.64 718.2 L223.29 715.76 L224.17 713.34 L225.28 710.94 L226.61 708.57 L228.15 706.23 L229.92 703.92 L231.89 701.65 L234.08 699.42 L236.47 697.24Z" fill="#ff6600" stroke="#ff6600" stroke-width="0.4"/>
<path d="M340.5 712 L236.47 697.24 L239.15 695.04 L242.03 692.91 L245.11 690.83 L248.39 688.83 L251.86 686.9 L255.52 685.04 L259.34 683.26 L263.34 681.57 L267.49 679.96 L271.79 678.45 L276.23 677.02 L280.81 675.69 L285.5 674.46 L290.31 673.33 L295.23 672.31 L300.24 671.39 L305.33 670.58 L310.49 669.87 L315.72 669.28 L320.99 668.8 L326.31 668.43 L331.66 668.17Z" fill="#00ff00" stroke="#00ff00" stroke-width="0.4"/>
<path d="M340.5 712 L331.66 668.17 L333.53 668.11 L335.39 668.06 L337.26 668.03 L339.13 668.01 L341 668Z" fill="#8b4513" stroke="#8b4513" stroke-width="0.4"/>
<text x="292.5" y="642.99" font-family="Liberation Serif,serif" font-size="11.49" font-weight="bold" fill="#111" stroke="#111" stroke-width="0.3" textLength="97.5" lengthAdjust="spacingAndGlyphs">EVENT 2 (0.5 - 2 S)</text>
<text x="298.5" y="655.57" font-family="Liberation Serif,serif" font-size="8.38" font-weight="bold" fill="#8b4a22" stroke="#8b4a22" stroke-width="0.3" textLength="64.5" lengthAdjust="spacingAndGlyphs">BATTERY(2 kW)</text>
<text x="307.5" y="665.21" font-family="Liberation Serif,serif" font-size="8.2" font-weight="bold" fill="#8b4a22" stroke="#8b4a22" stroke-width="0.3" textLength="46" lengthAdjust="spacingAndGlyphs">CHARGING</text>
<text x="257.5" y="694.88" font-family="Liberation Serif,serif" font-size="8.13" font-weight="bold" fill="#111" stroke="#111" stroke-width="0.3" textLength="67.5" lengthAdjust="spacingAndGlyphs">DC LOAD (22 kW)</text>
<text x="228.5" y="720.9" font-family="Liberation Serif,serif" font-size="8.19" font-weight="bold" fill="#111" stroke="#111" stroke-width="0.3" textLength="68" lengthAdjust="spacingAndGlyphs">AC LOAD (20 kW)</text>
<text x="279" y="766.48" font-family="Liberation Serif,serif" font-size="8.12" font-weight="bold" fill="#111" stroke="#111" stroke-width="0.3" textLength="47" lengthAdjust="spacingAndGlyphs">PV (20.5 kW)</text>
<text x="375" y="752.01" font-family="Liberation Serif,serif" font-size="8.22" font-weight="bold" fill="#111" stroke="#111" stroke-width="0.3" textLength="60.5" lengthAdjust="spacingAndGlyphs">PMSG (17.2 kW)</text>
<text x="391.5" y="715.25" font-family="Liberation Serif,serif" font-size="8.33" font-weight="bold" fill="#fff" stroke="#fff" stroke-width="0.3" textLength="59" lengthAdjust="spacingAndGlyphs">GRID (16.6 kW)</text>
<text x="407.5" y="725.91" font-family="Liberation Serif,serif" font-size="8.21" font-weight="bold" fill="#fff" stroke="#fff" stroke-width="0.3" textLength="26" lengthAdjust="spacingAndGlyphs">Absorb</text>
<text x="345.5" y="682.76" font-family="Liberation Serif,serif" font-size="7.77" font-weight="bold" fill="#062a2a" stroke="#062a2a" stroke-width="0.3" textLength="45.5" lengthAdjust="spacingAndGlyphs">DFIG (13.7 kW)</text>
<text x="429" y="682.94" font-family="Liberation Serif,serif" font-size="8.31" font-weight="bold" fill="#f0106a" stroke="#f0106a" stroke-width="0.3" textLength="63" lengthAdjust="spacingAndGlyphs">DIESEL (9.2 kW)</text>
<text x="193" y="818.82" font-family="Liberation Serif,serif" font-size="9.14" font-weight="bold" fill="#111" stroke="#111" stroke-width="0.3" textLength="279.5" lengthAdjust="spacingAndGlyphs">PV + PMSG + DFIG + DIESEL = AC LOAD + DC LOAD + BATTERY</text>
<text x="475.5" y="818.98" font-family="Liberation Sans,sans-serif" font-size="6.3" font-weight="bold" fill="#111" stroke="#111" stroke-width="0.3" textLength="26.5" lengthAdjust="spacingAndGlyphs">+ GRID</text>
<text x="335.6" y="854.98" font-family="Liberation Serif,serif" font-size="13.88" font-weight="bold" fill="#111" stroke="#111" stroke-width="0.3" textLength="20.8" lengthAdjust="spacingAndGlyphs">(m)</text>
</svg>
</body></html>
